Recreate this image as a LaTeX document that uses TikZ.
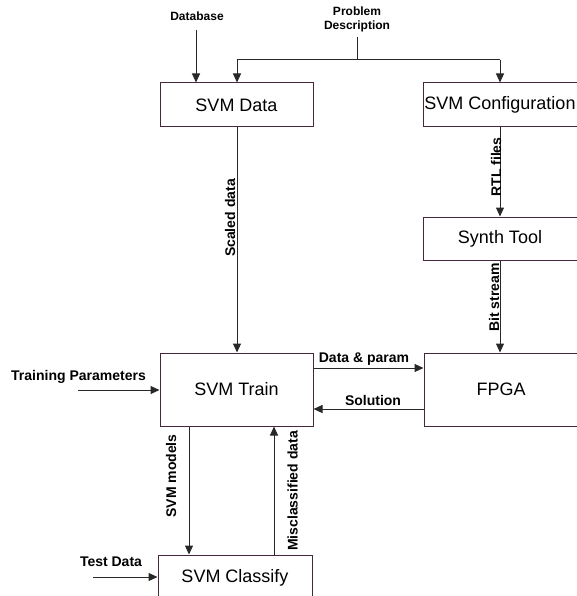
\documentclass[tikz,border=0pt]{standalone}
\usepackage{fontspec}
\setmainfont{Liberation Sans}
\usetikzlibrary{arrows.meta}
\definecolor{boxline}{RGB}{70,40,62}
\definecolor{arrline}{RGB}{40,40,40}
\tikzset{
  block/.style={draw=boxline, line width=1pt, inner sep=0pt, font=\fontsize{18}{20}\selectfont},
  arr/.style={draw=arrline, line width=1pt, -{Triangle[length=9pt,width=8pt]}},
  plain/.style={draw=arrline, line width=1pt},
  lbl/.style={inner sep=0pt, font=\fontsize{14}{16}\selectfont\bfseries},
  toplbl/.style={inner sep=0pt, align=center, font=\fontsize{12}{14}\selectfont\bfseries},
}
\begin{document}
\begin{tikzpicture}[x=1pt,y=-1pt]
\useasboundingbox (0,0) rectangle (576,596);
% boxes
\node[block, minimum width=153pt, minimum height=44pt] (data) at (236.5,105) {SVM Data};
\node[block, minimum width=154pt, minimum height=44pt] (config) at (500,105) {SVM Configuration};
\node[block, minimum width=154pt, minimum height=43pt] (synth) at (500,238.5) {Synth Tool};
\node[block, minimum width=154pt, minimum height=73pt] (fpga) at (501,389.5) {FPGA};
\node[block, minimum width=153pt, minimum height=73pt] (train) at (236.5,389.5) {SVM Train};
\node[block, minimum width=154pt, minimum height=45pt] (classify) at (235,577.5) {SVM Classify};
% top labels
\node[toplbl] (db) at (197,16) {Database};
\node[toplbl] (pd) at (357,19) {Problem\\Description};
% coordinates
\coordinate (pdtop) at (357,37);
\coordinate (split) at (357,60);
\coordinate (pdl) at (237,60);
\coordinate (pdr) at (500,60);
\coordinate (dbtop) at (196,30);
\coordinate (tpstart) at (78,390);
\coordinate (tdstart) at (93,577);
\coordinate (xs) at (237,0);
\coordinate (xr) at (500,0);
\coordinate (xm) at (189,0);
\coordinate (xc) at (274,0);
\coordinate (yd) at (0,368);
\coordinate (ys) at (0,409);
% connectors
\draw[arr] (dbtop) -- (data.north -| dbtop);
\draw[plain] (pdtop) -- (split);
\draw[plain] (pdl) -- (pdr);
\draw[arr] (pdl) -- (data.north -| pdl);
\draw[arr] (pdr) -- (config.north -| pdr);
\draw[arr] (data.south -| xs) -- (train.north -| xs);
\draw[arr] (config.south -| xr) -- (synth.north -| xr);
\draw[arr] (synth.south -| xr) -- (fpga.north -| xr);
\draw[arr] (train.east |- yd) -- (fpga.west |- yd);
\draw[arr] (fpga.west |- ys) -- (train.east |- ys);
\draw[arr] (tpstart) -- (train.west |- tpstart);
\draw[arr] (tdstart) -- (classify.west |- tdstart);
\draw[arr] (train.south -| xm) -- (classify.north -| xm);
\draw[arr] (classify.north -| xc) -- (train.south -| xc);
% labels
\node[lbl, rotate=90] (l1) at (230,218) {Scaled data};
\node[lbl, rotate=90] (l2) at (496,167) {RTL files};
\node[lbl, rotate=90] (l3) at (494,297.5) {Bit stream};
\node[lbl] (l4) at (364,359) {Data \& param};
\node[lbl] (l5) at (373,400) {Solution};
\node[lbl] (l6) at (78.5,377) {Training Parameters};
\node[lbl, rotate=90] (l7) at (171,476) {SVM models};
\node[lbl, rotate=90] (l8) at (292.5,491) {Misclassified data};
\node[lbl] (l9) at (111,562) {Test Data};
\end{tikzpicture}
\end{document}
